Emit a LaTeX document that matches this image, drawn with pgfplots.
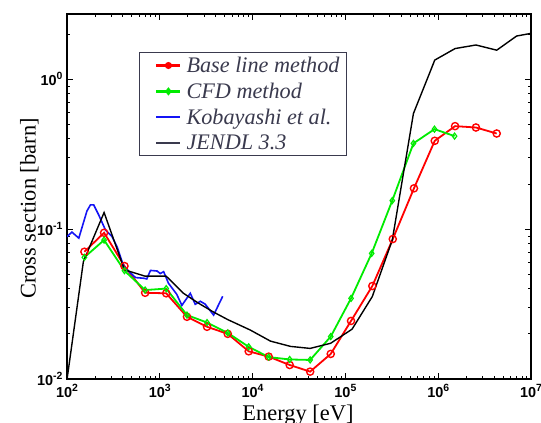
\documentclass[border=0pt]{standalone}
\usepackage{fontspec}
\setmainfont{Liberation Serif}
\newfontfamily\tickfont{Liberation Sans}
\usepackage{pgfplots}
\pgfplotsset{compat=1.18}
\definecolor{legcol}{RGB}{58,58,78}
\definecolor{myred}{RGB}{255,0,0}
\definecolor{mygreen}{RGB}{0,235,0}
\definecolor{myblue}{RGB}{20,20,245}
\newcommand{\sps}[1]{\raisebox{0.42em}{\fontsize{10.5}{12}\selectfont #1}}
\begin{document}
\begin{tikzpicture}
\begin{axis}[
  at={(0,0)}, anchor=south west,
  scale only axis, width=464bp, height=365bp,
  xmode=log, ymode=log,
  xmin=100, xmax=1e7, ymin=0.01, ymax=2.72,
  axis line style={line width=1.4bp},
  major tick style={line width=1bp, black},
  minor tick style={line width=0.8bp, black},
  major tick length=6bp, minor tick length=3.5bp,
  xtick={100,1000,10000,100000,1000000,10000000},
  xticklabels={10\sps{2},10\sps{3},10\sps{4},10\sps{5},10\sps{6},10\sps{7}},
  minor xtick={200,300,400,500,600,700,800,900,2000,3000,4000,5000,6000,7000,8000,9000,20000,30000,40000,50000,60000,70000,80000,90000,200000,300000,400000,500000,600000,700000,800000,900000,2000000,3000000,4000000,5000000,6000000,7000000,8000000,9000000},
  ytick={0.01,0.1,1},
  yticklabels={10\sps{-2},10\sps{-1},10\sps{0}},
  minor ytick={0.02,0.03,0.04,0.05,0.06,0.07,0.08,0.09,0.2,0.3,0.4,0.5,0.6,0.7,0.8,0.9,2},
  ticklabel style={font=\tickfont\bfseries\fontsize{14.5}{16}\selectfont},
  xticklabel style={yshift=-2bp},
  yticklabel style={xshift=-1bp},
  xlabel={Energy [eV]},
  ylabel={Cross section [barn]},
  label style={font=\fontsize{22.5}{26}\selectfont},
  xlabel style={at={(axis description cs:0.4978,-0.1137)}, anchor=base},
  ylabel style={at={(axis description cs:-0.0675,0.467)}, anchor=base},
  legend style={at={(axis description cs:0.155,0.896)}, anchor=north west,
    draw=legcol, line width=1.2bp, text=legcol,
    font=\fontsize{22.3}{25}\selectfont\itshape,
    inner xsep=5bp, inner ysep=2.5bp, row sep=5bp, column sep=3bp,
    cells={anchor=west}},
  legend cell align=left,
]
\addplot[myred, line width=1.8bp, mark=o, mark size=3.6bp, mark options={line width=1.4bp},
  legend image code/.code={\path (0bp,0bp); \draw[myred,line width=2.2bp] (11bp,0bp)--(35bp,0bp); \fill[myred] (23bp,0bp) circle (2.6bp);}]
coordinates {
(154,0.0706) (251,0.0945) (416,0.0567) (695,0.0376) (1172,0.0373) (1963,0.0260)
(3228,0.0223) (5400,0.0200) (9080,0.0153) (14900,0.0141) (25100,0.0124) (41700,0.0112)
(69500,0.0147) (115000,0.0244) (195000,0.0417) (324000,0.0858) (548000,0.187)
(918000,0.388) (1520000,0.486) (2550000,0.476) (4270000,0.434)};
\addlegendentry{Base line method}
\addplot[mygreen, line width=1.8bp, mark=diamond, mark size=3bp, mark options={line width=1.2bp},
  legend image code/.code={\path (0bp,0bp); \draw[mygreen,line width=2.2bp] (11bp,0bp)--(35bp,0bp); \fill[mygreen] (23bp,2.8bp)--(25.2bp,0bp)--(23bp,-2.8bp)--(20.8bp,0bp)--cycle;}]
coordinates {
(154,0.0648) (251,0.0845) (416,0.0528) (695,0.0392) (1172,0.0401) (1963,0.0267)
(3228,0.0238) (5400,0.0203) (9080,0.0164) (14900,0.0140) (25100,0.0135) (41700,0.0134)
(69500,0.0192) (115000,0.0345) (192000,0.0689) (320000,0.155) (541000,0.373)
(912000,0.464) (1500000,0.417)};
\addlegendentry{CFD method}
\addplot[myblue, line width=1.6bp,
  legend image code/.code={\path (0bp,0bp); \draw[myblue,line width=2.2bp] (11bp,0bp)--(35bp,0bp);}]
coordinates {
(100,0.089) (113,0.0955) (134,0.087) (164,0.132) (179,0.145) (194,0.145) (220,0.124)
(259,0.099) (306,0.089) (347,0.076) (410,0.056) (547,0.0475) (670,0.047) (724,0.0465)
(794,0.053) (937,0.0525) (1010,0.0505) (1100,0.052) (1240,0.0435) (1520,0.0368)
(1730,0.031) (2130,0.0373) (2410,0.0315) (2730,0.033) (3080,0.0316) (3800,0.0267)
(4130,0.0297) (4760,0.0356)};
\addlegendentry{Kobayashi et al.}
\addplot[black, line width=1.4bp,
  legend image code/.code={\path (0bp,0bp); \draw[legcol,line width=2.2bp] (11bp,0bp)--(35bp,0bp);}]
coordinates {
(100,0.0099) (150,0.0605) (251,0.129) (416,0.0535) (695,0.0485) (1172,0.0485)
(1800,0.0373) (2600,0.0321) (3776,0.0280) (5400,0.0249) (9460,0.0212) (15560,0.0179)
(25600,0.0165) (41700,0.0160) (69200,0.0173) (118000,0.0215) (195000,0.0355)
(320000,0.0845) (541000,0.59) (918000,1.34) (1520000,1.60) (2550000,1.69)
(4270000,1.56) (7000000,1.94) (10000000,2.02)};
\addlegendentry{JENDL 3.3}
\end{axis}
\pgfresetboundingbox
\path[use as bounding box] (-67bp,-44bp) rectangle (474bp,379bp);
\end{tikzpicture}
\end{document}
